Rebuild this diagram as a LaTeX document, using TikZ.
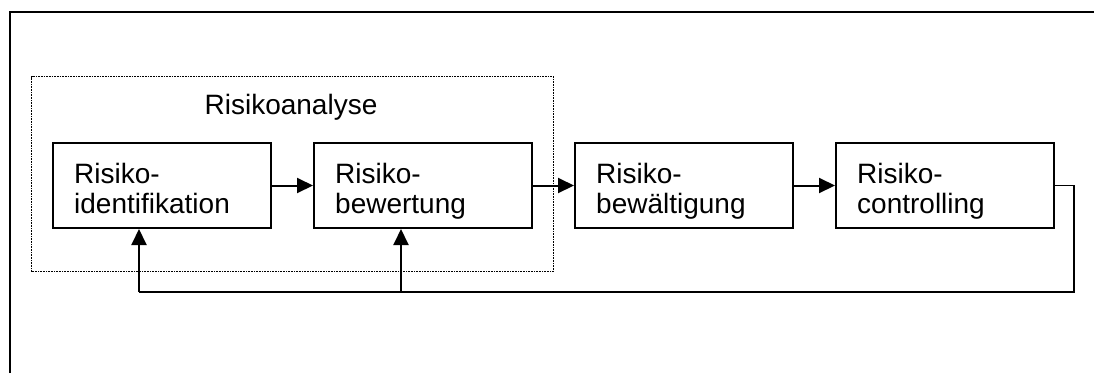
\documentclass[tikz,border=0pt]{standalone}
\usepackage{fontspec}
\setmainfont{Liberation Sans}
\usetikzlibrary{arrows.meta}
\begin{document}
\begin{tikzpicture}[x=1pt,y=-1pt,
  stepbox/.style={draw,line width=2pt,minimum width=218pt,minimum height=85pt,inner sep=0pt,anchor=north west},
  boxtext/.style={anchor=base west,align=left,inner sep=0pt,font=\fontsize{28}{30.5}\selectfont},
  flow/.style={line width=2pt,-{Triangle[length=16pt,width=15pt]}},
  back/.style={line width=1.8pt},
  frame/.style={line width=2.2pt},
  group/.style={draw,line width=1.2pt,dash pattern=on 1pt off 0.6pt}]
\useasboundingbox (0,0) rectangle (1094,373);
% open outer frame (only top and left edges inside the page)
\draw[frame] (10,373) -- (10,12) -- (1094,12);
% dotted group around the analysis steps
\node[group,anchor=north west,minimum width=522pt,minimum height=195pt,inner sep=0pt] (analyse) at (31,76) {};
\node[anchor=base,inner sep=0pt,font=\fontsize{28}{30.5}\selectfont] (analysetitle) at (291,114.7) {Risikoanalyse};
% process steps
\node[stepbox] (ident) at (52,142) {};
\node[stepbox] (bewert) at (313,142) {};
\node[stepbox] (bewaelt) at (574,142) {};
\node[stepbox] (control) at (835,142) {};
\node[boxtext] (identtext) at (74,213.5) {Risiko-\\identifikation};
\node[boxtext] (bewerttext) at (335,213.5) {Risiko-\\bewertung};
\node[boxtext] (bewaelttext) at (596,213.5) {Risiko-\\bewältigung};
\node[boxtext] (controltext) at (857,213.5) {Risiko-\\controlling};
% forward arrows
\draw[flow] (ident.east) -- (bewert.west);
\draw[flow] (bewert.east) -- (bewaelt.west);
\draw[flow] (bewaelt.east) -- (control.west);
% feedback loop
\coordinate (fbright) at (1074,292);
\coordinate (fbsplit) at (401,292);
\coordinate (fbleft) at (139,292);
\draw[back] (control.east) -| (fbright) -- (fbleft);
\draw[flow] (fbleft) -- (fbleft |- ident.south);
\draw[flow] (fbsplit) -- (fbsplit |- bewert.south);
\end{tikzpicture}
\end{document}
